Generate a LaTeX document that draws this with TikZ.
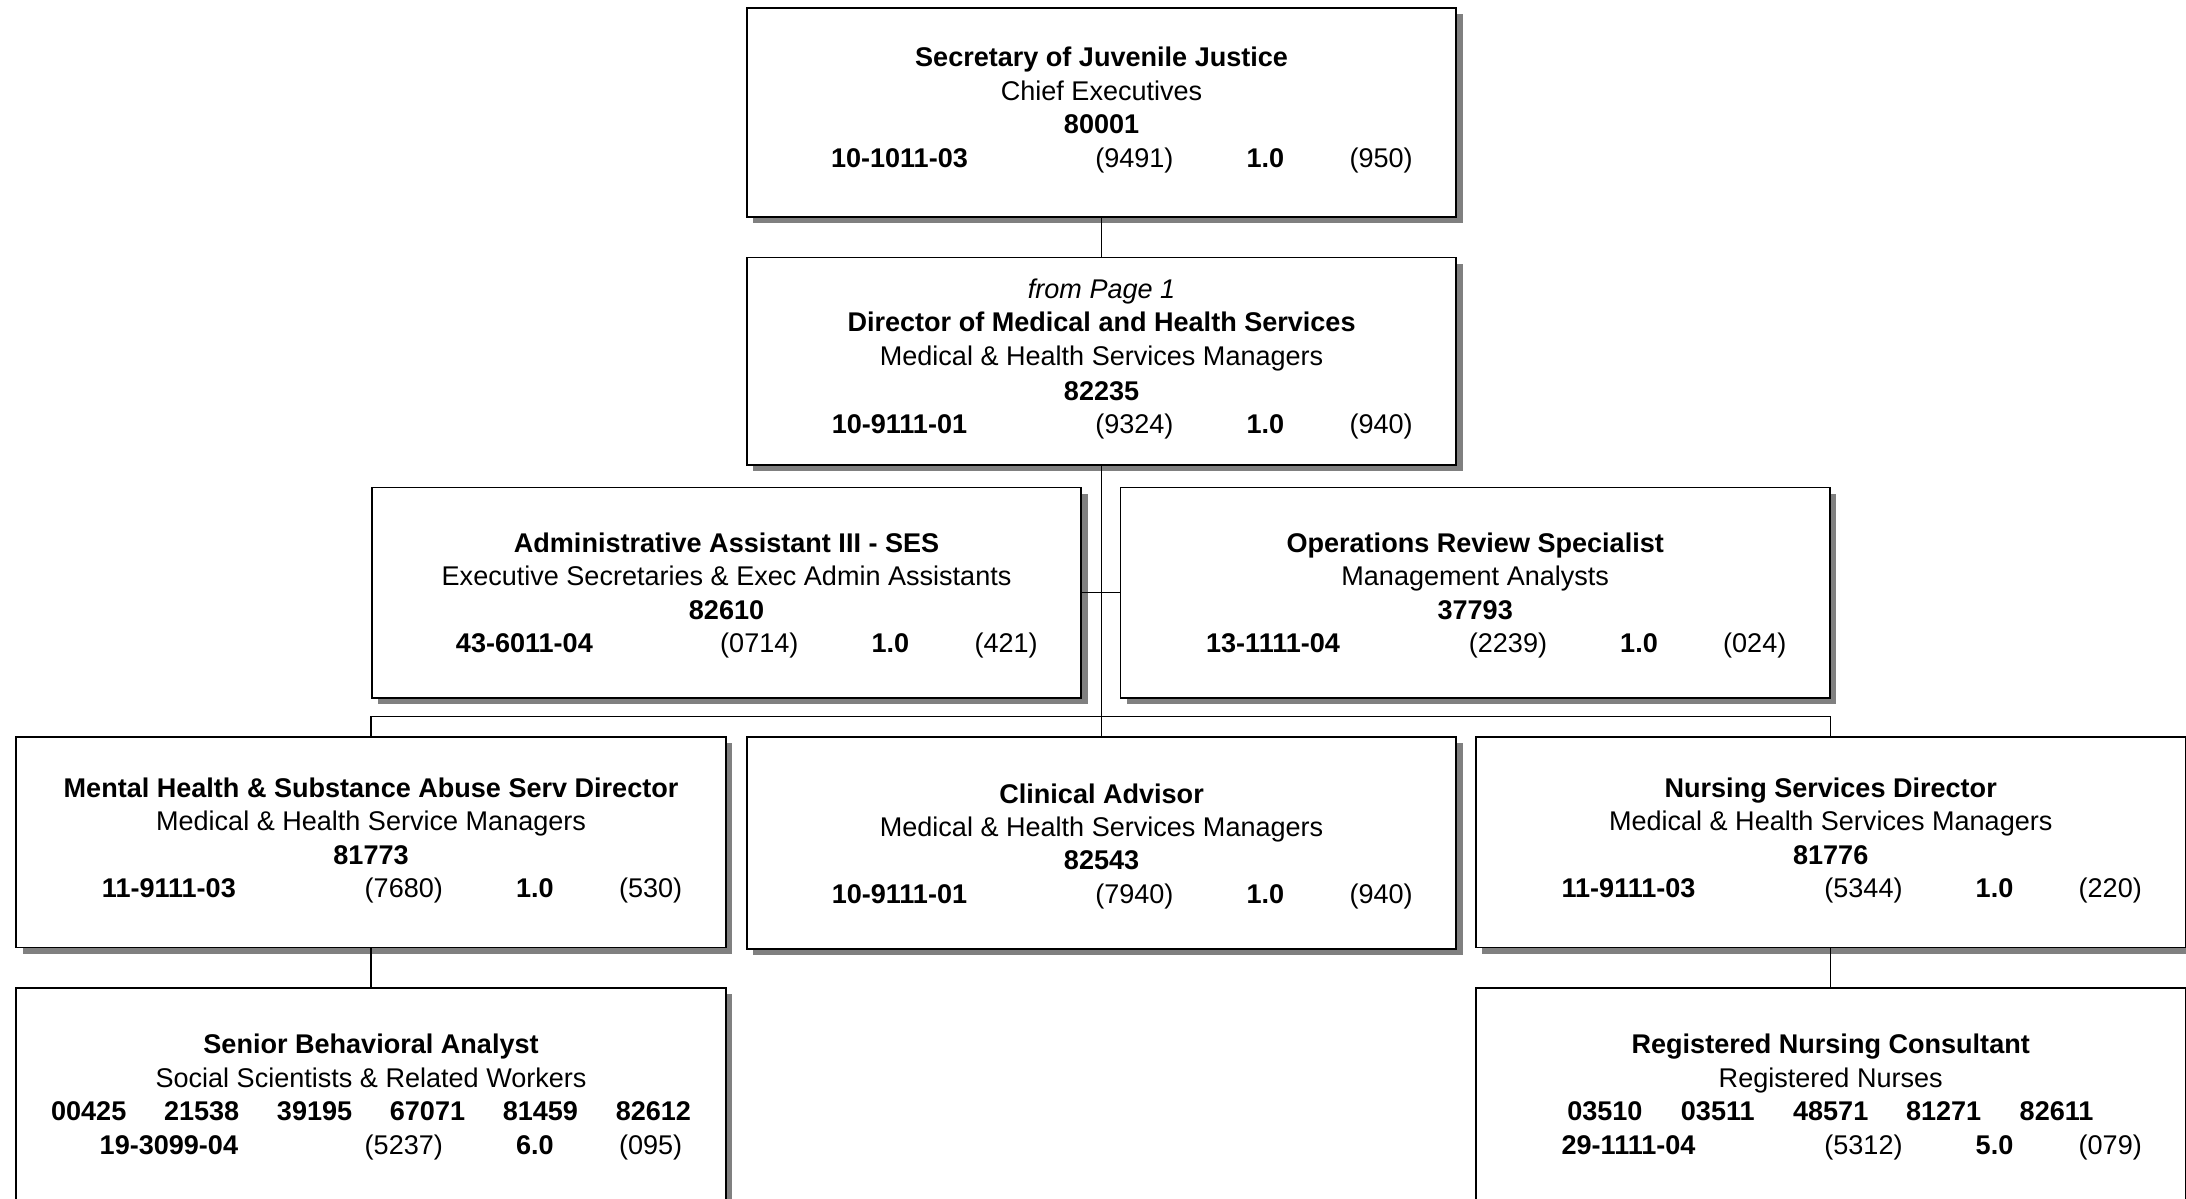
\documentclass[tikz,border=0pt]{standalone}
\usepackage{fontspec}
\setmainfont{Liberation Sans}
\usetikzlibrary{calc,shadows}

\tikzset{
  orgbox/.style={draw, line width=1.3pt, fill=white, inner sep=0pt,
    minimum width=509pt, anchor=north west,
    drop shadow={shadow xshift=4.5pt, shadow yshift=-4.5pt, fill=black!50, opacity=1}},
  txt/.style={inner sep=0pt, anchor=base, font=\fontsize{19.4pt}{24pt}\selectfont},
  bf/.style={txt, font=\fontsize{19.4pt}{24pt}\selectfont\bfseries},
  it/.style={txt, font=\fontsize{19.4pt}{24pt}\selectfont\itshape},
  link/.style={line width=1.1pt},
}

% centred text line: box, name, style, baseline offset, text
\newcommand\ctrline[5]{\node[#3] (#1-#2) at ($(#1.north)+(0,#4)$) {#5};}
% position row: box, baseline offset, code, (pay), fte, (grade)
\newcommand\posrow[6]{%
  \node[bf] (#1-code) at ($(#1.north)+(-145,#2)$) {#3};
  \node[txt] (#1-pay) at ($(#1.north)+(23.5,#2)$) {#4};
  \node[bf] (#1-fte) at ($(#1.north)+(117.5,#2)$) {#5};
  \node[txt] (#1-grd) at ($(#1.north)+(200.5,#2)$) {#6};}

\begin{document}
\begin{tikzpicture}[x=1pt,y=-1pt]
\useasboundingbox (0,0) rectangle (1568,860);

% boxes
\node[orgbox, minimum height=150pt] (sec)  at (535,5)   {};
\node[orgbox, minimum height=149pt] (dir)  at (535,184) {};
\node[orgbox, minimum height=151pt] (adm)  at (266,349) {};
\node[orgbox, minimum height=151pt] (ops)  at (803,349) {};
\node[orgbox, minimum height=151pt] (ment) at (11,528)  {};
\node[orgbox, minimum height=152pt] (clin) at (535,528) {};
\node[orgbox, minimum height=151pt] (nurs) at (1058,528) {};
\node[orgbox, minimum height=165pt] (sen)  at (11,708)  {};
\node[orgbox, minimum height=165pt] (reg)  at (1058,708) {};

% connectors
\coordinate (bus) at (789.5,514);
\draw[link] (sec.south) -- (dir.north);
\draw[link] (dir.south) -- (clin.north);
\draw[link] (adm.east) -- (ops.west);
\draw[link] (ment.north) |- (bus) -| (nurs.north);
\draw[link] (ment.south) -- (sen.north);
\draw[link] (nurs.south) -- (reg.north);

% Secretary of Juvenile Justice
\ctrline{sec}{t}{bf}{43}{Secretary of Juvenile Justice}
\ctrline{sec}{s}{txt}{67}{Chief Executives}
\ctrline{sec}{n}{bf}{91}{80001}
\posrow{sec}{115}{10-1011-03}{(9491)}{1.0}{(950)}

% Director of Medical and Health Services
\ctrline{dir}{f}{it}{30}{from Page 1}
\ctrline{dir}{t}{bf}{54}{Director of Medical and Health Services}
\ctrline{dir}{s}{txt}{78}{Medical \& Health Services Managers}
\ctrline{dir}{n}{bf}{103}{82235}
\posrow{dir}{127}{10-9111-01}{(9324)}{1.0}{(940)}

% Administrative Assistant III - SES
\ctrline{adm}{t}{bf}{47}{Administrative Assistant III - SES}
\ctrline{adm}{s}{txt}{71}{Executive Secretaries \& Exec Admin Assistants}
\ctrline{adm}{n}{bf}{95}{82610}
\posrow{adm}{119}{43-6011-04}{(0714)}{1.0}{(421)}

% Operations Review Specialist
\ctrline{ops}{t}{bf}{47}{Operations Review Specialist}
\ctrline{ops}{s}{txt}{71}{Management Analysts}
\ctrline{ops}{n}{bf}{95}{37793}
\posrow{ops}{119}{13-1111-04}{(2239)}{1.0}{(024)}

% Mental Health & Substance Abuse Serv Director
\ctrline{ment}{t}{bf}{44}{Mental Health \& Substance Abuse Serv Director}
\ctrline{ment}{s}{txt}{68}{Medical \& Health Service Managers}
\ctrline{ment}{n}{bf}{92}{81773}
\posrow{ment}{116}{11-9111-03}{(7680)}{1.0}{(530)}

% Clinical Advisor
\ctrline{clin}{t}{bf}{48}{Clinical Advisor}
\ctrline{clin}{s}{txt}{72}{Medical \& Health Services Managers}
\ctrline{clin}{n}{bf}{96}{82543}
\posrow{clin}{120}{10-9111-01}{(7940)}{1.0}{(940)}

% Nursing Services Director
\ctrline{nurs}{t}{bf}{44}{Nursing Services Director}
\ctrline{nurs}{s}{txt}{68}{Medical \& Health Services Managers}
\ctrline{nurs}{n}{bf}{92}{81776}
\posrow{nurs}{116}{11-9111-03}{(5344)}{1.0}{(220)}

% Senior Behavioral Analyst
\ctrline{sen}{t}{bf}{48}{Senior Behavioral Analyst}
\ctrline{sen}{s}{txt}{72}{Social Scientists \& Related Workers}
\node[bf] (sen-n1) at ($(sen.north)+(-202.5,96)$) {00425};
\node[bf] (sen-n2) at ($(sen.north)+(-121.5,96)$) {21538};
\node[bf] (sen-n3) at ($(sen.north)+(-40.5,96)$) {39195};
\node[bf] (sen-n4) at ($(sen.north)+(40.5,96)$) {67071};
\node[bf] (sen-n5) at ($(sen.north)+(121.5,96)$) {81459};
\node[bf] (sen-n6) at ($(sen.north)+(202.5,96)$) {82612};
\posrow{sen}{120}{19-3099-04}{(5237)}{6.0}{(095)}

% Registered Nursing Consultant
\ctrline{reg}{t}{bf}{48}{Registered Nursing Consultant}
\ctrline{reg}{s}{txt}{72}{Registered Nurses}
\node[bf] (reg-n1) at ($(reg.north)+(-162,96)$) {03510};
\node[bf] (reg-n2) at ($(reg.north)+(-81,96)$) {03511};
\node[bf] (reg-n3) at ($(reg.north)+(0,96)$) {48571};
\node[bf] (reg-n4) at ($(reg.north)+(81,96)$) {81271};
\node[bf] (reg-n5) at ($(reg.north)+(162,96)$) {82611};
\posrow{reg}{120}{29-1111-04}{(5312)}{5.0}{(079)}
\end{tikzpicture}
\end{document}
